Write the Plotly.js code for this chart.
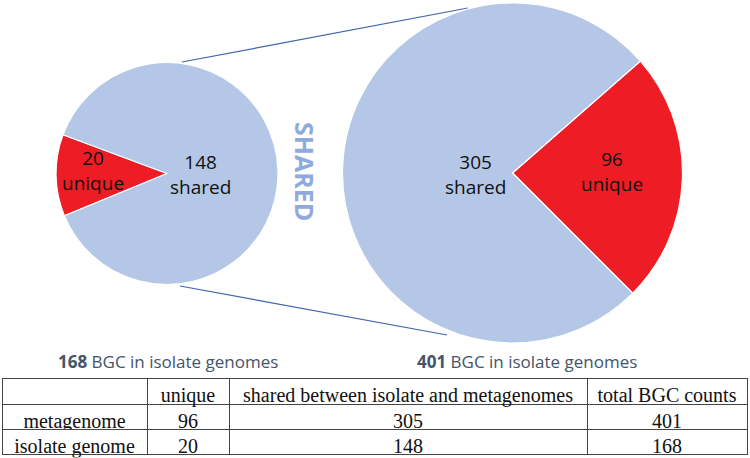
<!DOCTYPE html>
<html>
<head>
<meta charset="utf-8">
<script src="https://cdn.plot.ly/plotly-3.0.1.min.js"></script>
<style>html,body{margin:0;padding:0;background:#fff;}#chart{width:750px;height:458px;}</style>
</head>
<body>
<div id="chart"></div>
<script>
// ---- data ----
const categories = ['unique', 'shared'];
const isolateValues = [20, 148];
const metaValues = [96, 305];
const rowLabels = ['metagenome', 'isolate genome'];
const headerLabels = ['', 'unique', 'shared between isolate and metagenomes', 'total BGC counts'];
const uniqueCounts = [96, 20];
const sharedCounts = [305, 148];
const totalCounts = [401, 168];
const captionText = 'BGC in isolate genomes';
const sideLabel = 'SHARED';

// ---- helpers (pixel -> paper) ----
const W = 750, H = 458;
const px = x => x / W;
const py = y => 1 - y / H;

const sliceColors = ['#EE1D25', '#B4C7E7'];

const smallPie = {
  type: 'pie', values: isolateValues, labels: categories, sort: false,
  direction: 'clockwise', rotation: 247.6,
  marker: {colors: sliceColors, line: {color: '#ffffff', width: 1.2}},
  textinfo: 'none', hoverinfo: 'none', showlegend: false,
  domain: {x: [px(56), px(278)], y: [py(284.5), py(62.5)]}
};
const bigPie = {
  type: 'pie', values: metaValues, labels: categories, sort: false,
  direction: 'clockwise', rotation: 48.8,
  marker: {colors: sliceColors, line: {color: '#ffffff', width: 1.2}},
  textinfo: 'none', hoverinfo: 'none', showlegend: false,
  domain: {x: [px(342.5), px(682.5)], y: [py(343), py(3)]}
};

const serif = {family: 'Liberation Serif, Times New Roman, serif', size: 20, color: '#111111'};
const table = {
  type: 'table',
  domain: {x: [px(2), px(747)], y: [0, py(378.5)]},
  columnwidth: [145, 82, 358, 160],
  header: {
    values: headerLabels,
    align: 'center', height: 26,
    fill: {color: '#ffffff'},
    line: {color: '#444444', width: 1},
    font: serif
  },
  cells: {
    values: [rowLabels, uniqueCounts, sharedCounts, totalCounts],
    align: 'center', height: 25,
    fill: {color: '#ffffff'},
    line: {color: '#444444', width: 1},
    font: serif
  }
};

const labFont = {family: 'Open Sans, sans-serif', size: 19, color: '#111111'};
function lab(x, y, value, name) {
  return {xref: 'paper', yref: 'paper', x: px(x), y: py(y), xanchor: 'center', yanchor: 'middle',
          text: String(value) + '<br>' + name, showarrow: false, font: labFont};
}
const annotations = [
  // small pie (isolate genome)
  lab(93, 170, isolateValues[0], categories[0]),
  lab(200, 174, isolateValues[1], categories[1]),
  // big pie (metagenome)
  lab(612, 171, metaValues[0], categories[0]),
  lab(475, 174, metaValues[1], categories[1]),
  // side label
  {xref: 'paper', yref: 'paper', x: px(305), y: py(171), xanchor: 'center', yanchor: 'middle',
   text: '<b>' + sideLabel + '</b>', textangle: 90, showarrow: false,
   font: {family: 'Open Sans, sans-serif', size: 25, color: '#8FAADC'}},
  // captions
  {xref: 'paper', yref: 'paper', x: px(168), y: py(361), xanchor: 'center', yanchor: 'middle',
   text: '<b>' + totalCounts[1] + '</b> ' + captionText, showarrow: false,
   font: {family: 'Open Sans, sans-serif', size: 17, color: '#44546A'}},
  {xref: 'paper', yref: 'paper', x: px(527), y: py(361), xanchor: 'center', yanchor: 'middle',
   text: '<b>' + totalCounts[0] + '</b> ' + captionText, showarrow: false,
   font: {family: 'Open Sans, sans-serif', size: 17, color: '#44546A'}}
];

const lineStyle = {color: '#3D65AE', width: 1.2};
const shapes = [
  {type: 'line', xref: 'paper', yref: 'paper', layer: 'below',
   x0: px(182), y0: py(62), x1: px(468), y1: py(8), line: lineStyle},
  {type: 'line', xref: 'paper', yref: 'paper', layer: 'below',
   x0: px(180), y0: py(286), x1: px(447), y1: py(335), line: lineStyle}
];

const layout = {
  width: W, height: H,
  margin: {l: 0, r: 0, t: 0, b: 0},
  paper_bgcolor: '#ffffff', plot_bgcolor: '#ffffff',
  showlegend: false,
  annotations: annotations,
  shapes: shapes
};

Plotly.newPlot('chart', [smallPie, bigPie, table], layout, {displayModeBar: false, staticPlot: true});
</script>
</body>
</html>
